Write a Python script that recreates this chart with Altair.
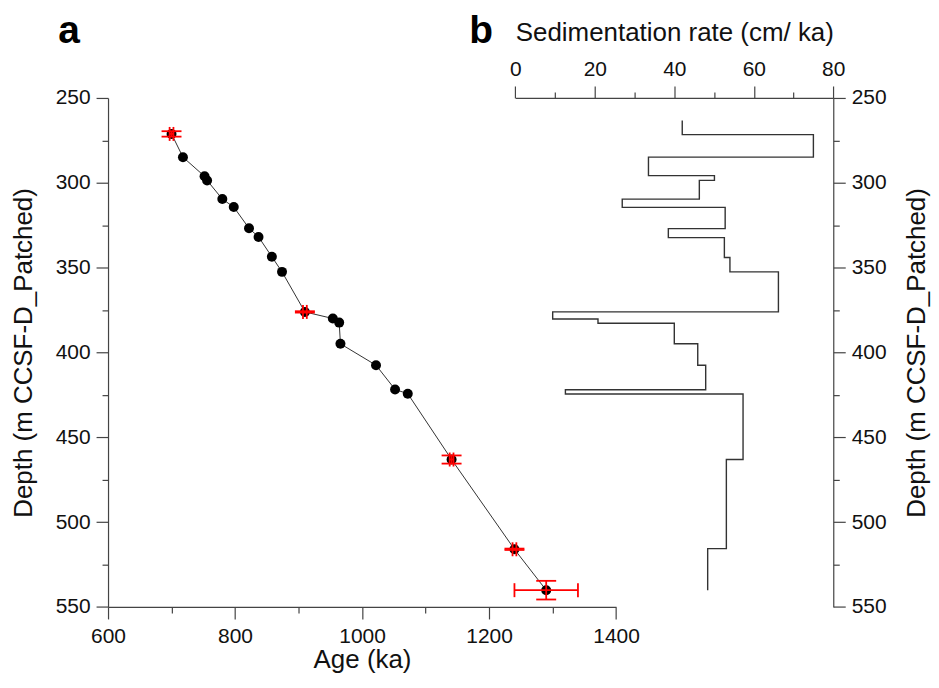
import altair as alt
import pandas as pd

# ---------------- Panel a: age-depth tie points ----------------
ages = [700, 718, 752, 756, 780, 798, 822, 837, 858, 874, 910, 954, 964, 966,
        1022, 1052, 1072, 1141, 1240, 1290]
depths = [271.2, 284.9, 296.2, 298.6, 309.6, 314.3, 326.8, 331.9, 343.6, 352.5,
          376.1, 380.0, 382.4, 394.9, 407.5, 421.8, 424.3, 463.1, 516.0, 540.1]

# dated control points (red) with uncertainties
ctrl_ages = [700, 910, 1141, 1240, 1290]
ctrl_depths = [271.2, 376.1, 463.1, 516.0, 540.1]
ctrl_age_err = [3, 3, 3, 3, 50]
ctrl_depth_err = [1.6, 0.4, 2.4, 0.4, 5.5]

# ---------------- Panel b: sedimentation rate steps ----------------
seg_breaks = [263.3, 271.6, 284.9, 295.8, 298.6, 309.6, 314.5, 327.0, 332.3, 344.0,
              352.5, 376.1, 380.3, 382.8, 394.9, 407.5, 422.0, 424.5, 463.1, 515.6, 540.1]
seg_rates = [42.0, 75.0, 33.5, 50.1, 46.3, 26.9, 52.8, 38.5, 52.6, 54.0,
             66.2, 9.4, 20.8, 40.0, 45.9, 47.9, 12.6, 57.3, 53.1, 48.4]

age_ticks = [600, 700, 800, 900, 1000, 1100, 1200, 1300, 1400]
rate_ticks = [0, 10, 20, 30, 40, 50, 60, 70, 80]
depth_ticks = [250, 275, 300, 325, 350, 375, 400, 425, 450, 475, 500, 525, 550]

df_a = pd.DataFrame({"age": ages, "depth": depths, "i": list(range(len(ages)))})
df_c = pd.DataFrame({
    "age": ctrl_ages, "depth": ctrl_depths,
    "age_lo": [a - e for a, e in zip(ctrl_ages, ctrl_age_err)],
    "age_hi": [a + e for a, e in zip(ctrl_ages, ctrl_age_err)],
    "d_lo": [d - e for d, e in zip(ctrl_depths, ctrl_depth_err)],
    "d_hi": [d + e for d, e in zip(ctrl_depths, ctrl_depth_err)],
})
rows = []
for k, r in enumerate(seg_rates):
    rows.append({"rate": r, "depth": seg_breaks[k], "i": 2 * k})
    rows.append({"rate": r, "depth": seg_breaks[k + 1], "i": 2 * k + 1})
df_b = pd.DataFrame(rows)

FONT = "Liberation Sans"
AX = "#444444"
RED = "#ff0000"

XA = alt.Scale(domain=[600, 1400], range=[0, 509.4], nice=False, zero=False)
YD = alt.Scale(domain=[250, 550], range=[0, 510.4], nice=False, zero=False)
XB = alt.Scale(domain=[0, 80], range=[408.4, 727.2], nice=False, zero=False)


def tick_cond(step):
    return {"condition": {"test": f"datum.value % {step} === 0", "value": 12}, "value": 6}


common = dict(grid=False, domainColor=AX, tickColor=AX, domainWidth=1.2, tickWidth=1.2,
              labelColor="#111", titleColor="#111", labelFont=FONT, titleFont=FONT,
              labelFontSize=21, titleFontSize=26, titleFontWeight="normal",
              labelOverlap=False, labelFlush=False, format="d")

axis_xa = alt.Axis(orient="bottom", values=age_ticks, tickSize=tick_cond(200),
                   labelExpr="datum.value % 200 === 0 ? datum.label : ''",
                   title="Age (ka)", labelPadding=7, titlePadding=0, **common)
axis_ya = alt.Axis(orient="left", values=depth_ticks, tickSize=tick_cond(50),
                   labelExpr="datum.value % 50 === 0 ? datum.label : ''",
                   title="Depth (m CCSF-D_Patched)", labelPadding=6, titlePadding=19, **common)
axis_xb = alt.Axis(orient="top", values=rate_ticks, tickSize=tick_cond(20),
                   labelExpr="datum.value % 20 === 0 ? datum.label : ''",
                   title="Sedimentation rate (cm/ ka)", labelPadding=7, titlePadding=13, **common)
axis_yb = alt.Axis(orient="right", values=depth_ticks, tickSize=tick_cond(50),
                   labelExpr="datum.value % 50 === 0 ? datum.label : ''",
                   title="Depth (m CCSF-D_Patched)", titleAngle=270, titleBaseline="top",
                   labelPadding=6, titlePadding=17, **common)


def XAge(field):
    return alt.X(field, type="quantitative", scale=XA, axis=axis_xa, title="Age (ka)")


def YDep(field):
    return alt.Y(field, type="quantitative", scale=YD, axis=axis_ya, title="Depth (m CCSF-D_Patched)")


base_a = alt.Chart(df_a)
line_a = base_a.mark_line(color="#333333", strokeWidth=1).encode(
    x=XAge("age"), y=YDep("depth"), order="i:Q",
)
pts_a = base_a.mark_point(filled=True, color="black", size=100, opacity=1).encode(
    x=XAge("age"), y=YDep("depth"),
)
base_c = alt.Chart(df_c)
xerr = base_c.mark_rule(color=RED, strokeWidth=1.8).encode(
    x=XAge("age_lo"), x2="age_hi:Q", y=YDep("depth"),
)
yerr = base_c.mark_rule(color=RED, strokeWidth=1.8).encode(
    x=XAge("age"), y=YDep("d_lo"), y2="d_hi:Q",
)
cap_lo_y = base_c.mark_tick(color=RED, orient="horizontal", size=20, thickness=1.8, opacity=1).encode(
    x=XAge("age"), y=YDep("d_lo"))
cap_hi_y = base_c.mark_tick(color=RED, orient="horizontal", size=20, thickness=1.8, opacity=1).encode(
    x=XAge("age"), y=YDep("d_hi"))
cap_lo_x = base_c.mark_tick(color=RED, orient="vertical", size=14, thickness=1.8, opacity=1).encode(
    x=XAge("age_lo"), y=YDep("depth"))
cap_hi_x = base_c.mark_tick(color=RED, orient="vertical", size=14, thickness=1.8, opacity=1).encode(
    x=XAge("age_hi"), y=YDep("depth"))

panel_a = alt.layer(line_a, pts_a, xerr, yerr, cap_lo_y, cap_hi_y, cap_lo_x, cap_hi_x)

panel_b = alt.Chart(df_b).mark_line(color="#333333", strokeWidth=1.4).encode(
    x=alt.X("rate:Q", scale=XB, axis=axis_xb),
    y=alt.Y("depth:Q", scale=YD, axis=axis_yb),
    order="i:Q",
)

lab_a = alt.Chart(pd.DataFrame({"t": ["a"]})).mark_text(
    font=FONT, fontSize=39, fontWeight="bold", align="center", baseline="alphabetic", color="black"
).encode(text="t:N", x=alt.value(-39), y=alt.value(-55))
lab_b = alt.Chart(pd.DataFrame({"t": ["b"]})).mark_text(
    font=FONT, fontSize=39, fontWeight="bold", align="center", baseline="alphabetic", color="black"
).encode(text="t:N", x=alt.value(374), y=alt.value(-55))

chart = alt.layer(panel_a, panel_b, lab_a, lab_b).resolve_scale(
    x="independent", y="independent"
).properties(
    width=727.2, height=510.4,
    autosize=alt.AutoSizeParams(type="none"),
    padding={"left": 100.3, "top": 89.3, "right": 98, "bottom": 66},
).configure_view(stroke=None)

chart.save("out.html", embed_options={"renderer": "svg", "actions": False})
